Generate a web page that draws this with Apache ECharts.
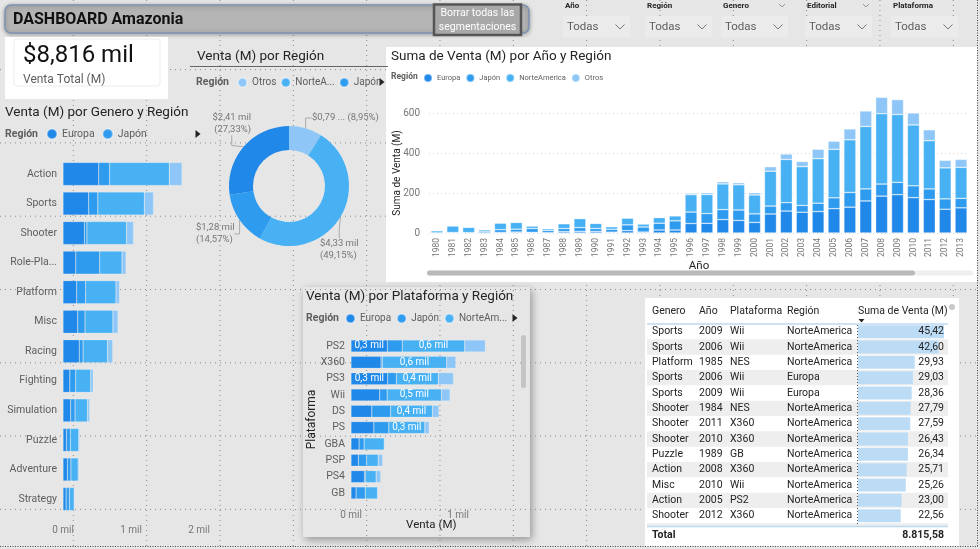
<!DOCTYPE html>
<html><head><meta charset="utf-8">
<script src="https://cdn.jsdelivr.net/npm/echarts@6/dist/echarts.min.js"></script>
<style>html,body{margin:0;padding:0;background:#e6e6e6}#c{width:980px;height:549px}</style>
</head><body><div id="c"></div>
<script>
// ---------------- DATA ----------------
const regiones = ['Europa', 'Japón', 'NorteAmerica', 'Otros'];
const ventaTotal = 8815.58;

const generos = ['Action','Sports','Shooter','Role-Playing','Platform','Misc','Racing','Fighting','Simulation','Puzzle','Adventure','Strategy'];
const generoEuropa       = [525.0, 376.9, 313.3, 188.1, 201.6, 216.0, 238.4, 100.3, 113.4, 50.8, 64.1, 45.3];
const generoJapon        = [159.9, 135.4, 38.3, 352.3, 130.8, 107.8, 56.7, 87.4, 63.7, 57.3, 52.1, 49.5];
const generoNorteAmerica = [877.8, 683.4, 582.6, 327.3, 447.1, 410.2, 359.4, 220.4, 183.3, 123.8, 105.8, 68.7];
const generoOtros        = [187.4, 135.0, 102.7, 59.6, 51.6, 75.3, 77.3, 36.7, 31.5, 12.6, 16.8, 11.4];

const donutRegiones = ['Otros', 'NorteAmerica', 'Japón', 'Europa'];
const donutVentas   = [789.0, 4332.8, 1284.4, 2409.3];

const anios = ['1980','1981','1982','1983','1984','1985','1986','1987','1988','1989','1990','1991','1992','1993','1994','1995','1996','1997','1998','1999','2000','2001','2002','2003','2004','2005','2006','2007','2008','2009','2010','2011','2012','2013'];
const anioEuropa       = [0.7, 2.0, 1.7, 0.8, 2.1, 4.7, 2.8, 1.4, 6.6, 8.4, 7.6, 4.0, 11.7, 4.7, 14.9, 14.9, 47.3, 48.3, 66.9, 62.7, 52.8, 94.9, 109.7, 103.8, 107.3, 121.6, 129.2, 160.2, 184.4, 191.6, 176.6, 167.4, 118.8, 125.8];
const anioJapon        = [0.0, 0.0, 0.0, 8.1, 14.3, 14.6, 19.8, 11.6, 15.8, 18.4, 14.9, 14.8, 28.9, 25.3, 34.0, 45.8, 57.4, 48.9, 50.0, 52.3, 42.8, 39.9, 41.8, 34.2, 41.7, 54.3, 73.7, 60.3, 60.3, 61.9, 59.5, 53.0, 51.8, 47.6];
const anioNorteAmerica = [10.6, 33.4, 26.9, 7.8, 33.3, 33.7, 12.5, 8.5, 23.9, 45.2, 25.5, 12.8, 33.9, 15.1, 28.2, 24.8, 86.8, 94.8, 128.4, 126.1, 94.5, 174.0, 216.2, 193.6, 222.6, 242.6, 263.1, 312.1, 351.4, 338.9, 304.2, 241.1, 155.0, 154.8];
const anioOtros        = [0.1, 0.3, 0.3, 0.1, 0.7, 0.9, 1.9, 0.2, 1.0, 1.5, 1.4, 0.7, 1.7, 0.9, 2.2, 2.6, 7.7, 9.1, 11.0, 10.1, 11.6, 22.8, 27.3, 26.0, 47.2, 40.6, 54.4, 77.6, 82.4, 74.8, 59.9, 54.4, 37.8, 39.8];

const plataformas = ['PS2','X360','PS3','Wii','DS','PS','GBA','PSP','PS4','GB'];
const platEuropa       = [339.3, 280.6, 343.7, 268.4, 194.7, 213.6, 75.3, 68.3, 123.7, 47.8];
const platJapon        = [139.2, 12.4, 80.0, 69.4, 175.6, 139.8, 47.3, 76.8, 14.3, 85.1];
const platNorteAmerica = [583.8, 601.1, 392.3, 507.7, 390.7, 336.5, 187.5, 109.0, 96.8, 114.3];
const platOtros        = [193.4, 85.5, 141.9, 80.6, 60.5, 40.9, 7.7, 42.2, 43.4, 8.2];

const tablaGenero     = ['Sports','Sports','Platform','Sports','Sports','Shooter','Shooter','Shooter','Puzzle','Action','Misc','Action','Shooter'];
const tablaAnio       = ['2009','2006','1985','2006','2009','1984','2011','2010','1989','2008','2010','2005','2012'];
const tablaPlataforma = ['Wii','Wii','NES','Wii','Wii','NES','X360','X360','GB','X360','Wii','PS2','X360'];
const tablaRegion     = ['NorteAmerica','NorteAmerica','NorteAmerica','Europa','Europa','NorteAmerica','NorteAmerica','NorteAmerica','NorteAmerica','NorteAmerica','NorteAmerica','NorteAmerica','NorteAmerica'];
const tablaVenta      = [45.42, 42.60, 29.93, 29.03, 28.36, 27.79, 27.59, 26.43, 26.34, 25.71, 25.26, 23.00, 22.56];

const slicers = ['Año', 'Región', 'Genero', 'Editorial', 'Plataforma'];

// ---------------- STYLE / LAYOUT ----------------
const COL = {'Europa':'#2088e9','Japón':'#2e9bef','NorteAmerica':'#47b1f4','Otros':'#8ec7f7'};
const F = 'Roboto, "Open Sans", sans-serif';
const TXT = '#252423', SUB = '#605e5c', AX = '#777777';
const donutLabelPos = [[312, 118, 'left'], [320, 250, 'left'], [196, 234, 'left'], [251, 123.5, 'right']];
const fmt = (n, d) => n.toFixed(d).replace('.', ',');
const fmtES = n => { const p = n.toFixed(2).split('.'); return p[0].replace(/\B(?=(\d{3})+(?!\d))/g, '.') + ',' + p[1]; };

const chart = echarts.init(document.getElementById('c'), null, {renderer: 'canvas'});

// ---------------- GRAPHICS (decoration) ----------------
const g = [];
function rect(x, y, w, h, style, z, r) { g.push({type:'rect', z: z, shape:{x, y, width:w, height:h, r: r || 0}, style}); }
function line(x1, y1, x2, y2, style, z) { g.push({type:'line', z: z, shape:{x1, y1, x2, y2}, style}); }
function text(x, y, t, o, z) {
  g.push({type:'text', z: z == null ? 10 : z, x, y, style: Object.assign({text: t, fill: TXT, fontFamily: F, fontSize: 11, align: 'left', verticalAlign: 'middle'}, o)});
}
function tri(x, y) { g.push({type:'polygon', z: 10, shape:{points:[[x-2.5, y-4],[x+2.5, y],[x-2.5, y+4]]}, style:{fill:'#252423'}}); }

// platform visual panel (below dots)
rect(303, 287, 227, 250, {fill:'#e6e6e6', shadowBlur: 8, shadowOffsetX: 2, shadowOffsetY: 3, shadowColor:'rgba(0,0,0,0.35)'}, 0);

// canvas grid dots
for (let k = 1; k <= 13; k++) line(73.33 * k, 0, 73.33 * k, 546, {stroke:'#8a8a8a', lineWidth: 1, lineDash:[1, 4]}, 1);
for (let k = 0; k <= 6; k++) line(0, 69.6 + 73.3 * k, 977, 69.6 + 73.3 * k, {stroke:'#8a8a8a', lineWidth: 1, lineDash:[1, 4]}, 1);
line(977.5, 0, 977.5, 547, {stroke:'#444', lineWidth: 1, lineDash:[1, 1.5]}, 1);
line(0, 546.5, 978, 546.5, {stroke:'#444', lineWidth: 1, lineDash:[1, 1.5]}, 1);

// header
rect(5, 5, 524, 28, {fill:'#b4b4b4', stroke:'#7d93b2', lineWidth: 1.5, shadowBlur: 4, shadowOffsetY: 1, shadowColor:'rgba(0,0,0,0.3)'}, 2, 6);
text(13, 19.5, 'DASHBOARD Amazonia', {fontSize: 16, fontWeight: 'bold', fill: '#111'});
rect(434, 4.5, 87, 30.5, {fill:'#a8a8a8', stroke:'#555', lineWidth: 2.5}, 3);
text(477.5, 13, 'Borrar todas las', {fontSize: 10.5, fill:'#fff', align:'center'});
text(477.5, 27, 'segmentaciones', {fontSize: 10.5, fill:'#fff', align:'center'});

// slicers
const slX = [563, 645, 721, 805, 891];
slicers.forEach((s, i) => {
  const x = slX[i];
  text(x + 2, 5.5, s, {fontSize: 8, fontWeight: 'bold'});
  rect(x, 16, 67, 21, {fill:'#ebebeb'}, 2);
  text(x + 4, 27, 'Todas', {fontSize: 11.5, fill: SUB});
  const c = x + 57;
  g.push({type:'polyline', z: 10, shape:{points:[[c-4.5, 24.5],[c, 29],[c+4.5, 24.5]]}, style:{stroke:'#777', lineWidth: 1, fill: null}});
  if (s === 'Genero' || s === 'Editorial') {
    const c2 = x + 61;
    g.push({type:'polyline', z: 10, shape:{points:[[c2-3, 4],[c2, 7],[c2+3, 4]]}, style:{stroke:'#999', lineWidth: 1, fill: null}});
  }
});

// KPI card
rect(5, 37, 163, 62, {fill:'#ffffff'}, 2);
rect(14, 39, 146, 47, {fill: null, stroke:'#ececec', lineWidth: 1}, 3, 3);
text(23, 56, '$' + Math.round(ventaTotal).toLocaleString('en-US') + ' mil', {fontSize: 24, fill:'#111'});
text(23, 80, 'Venta Total (M)', {fontSize: 12, fill: SUB});

// genre visual
text(5, 113, 'Venta (M) por Genero y Región', {fontSize: 13.5});
text(5, 134, 'Región', {fontSize: 10.5, fontWeight: 'bold', fill: SUB});
tri(198, 134);

// donut visual
text(197, 57, 'Venta (M) por Región', {fontSize: 13.5});
line(190, 66.5, 388, 66.5, {stroke:'#666', lineWidth: 1.2}, 3);
text(196, 82, 'Región', {fontSize: 10.5, fontWeight: 'bold', fill: SUB});
tri(382, 82);

// year visual
rect(386, 47, 591, 235, {fill:'#ffffff'}, 2);
text(391, 57, 'Suma de Venta (M) por Año y Región', {fontSize: 13.5});
text(391, 77, 'Región', {fontSize: 8.5, fontWeight: 'bold', fill: SUB});
rect(427, 270.5, 546, 5, {fill:'#efefef'}, 3, 2.5);
rect(427, 270.5, 488, 5, {fill:'#b9b9b9'}, 3, 2.5);

// platform visual
text(306, 297, 'Venta (M) por Plataforma y Región', {fontSize: 13.5});
text(306, 318, 'Región', {fontSize: 10.5, fontWeight: 'bold', fill: SUB});
tri(515, 318);
rect(521, 335, 5, 53, {fill:'#c4c4c4'}, 3, 2.5);

// table visual
const tTop = 324, rowH = 15.33;
rect(645, 298, 314, 248, {fill:'#ffffff'}, 2);
for (let i = 0; i < tablaVenta.length + 1; i++) {
  if (i % 2 === 1) rect(647, tTop + i * rowH, 301, Math.min(rowH, 526 - (tTop + i * rowH)), {fill:'#eeeeee'}, 3);
}
text(652, 311, 'Genero', {fontSize: 10.5});
text(699, 311, 'Año', {fontSize: 10.5});
text(730, 311, 'Plataforma', {fontSize: 10.5});
text(787, 311, 'Región', {fontSize: 10.5});
text(858, 311, 'Suma de Venta (M)', {fontSize: 10.5});
g.push({type:'polygon', z: 10, shape:{points:[[858.5, 319],[864.5, 319],[861.5, 322.5]]}, style:{fill:'#252423'}});
line(647, 324, 948, 324, {stroke:'#bcd9f2', lineWidth: 1.5}, 4);
line(857.5, 325, 857.5, 526, {stroke:'#555', lineWidth: 1, lineDash:[1, 2]}, 6);
line(647, 526.5, 948, 526.5, {stroke:'#bcd9f2', lineWidth: 1.5}, 4);
text(652, 535.5, 'Total', {fontSize: 10.5, fontWeight: 'bold'});
text(944, 535.5, fmtES(ventaTotal), {fontSize: 10.5, fontWeight: 'bold', align: 'right'});
g.push({type:'circle', z: 4, shape:{cx: 952, cy: 307, r: 3}, style:{fill:'#c8c8c8'}});

// ---------------- SERIES ----------------
const genreData = [generoEuropa, generoJapon, generoNorteAmerica, generoOtros];
const yearData = [anioEuropa, anioJapon, anioNorteAmerica, anioOtros];
const platData = [platEuropa, platJapon, platNorteAmerica, platOtros];
const series = [];
regiones.forEach((r, i) => {
  series.push({type:'bar', name: r, xAxisIndex: 0, yAxisIndex: 0, stack: 'gen', barWidth: 23, z: 5,
    data: genreData[i], itemStyle:{color: COL[r], borderColor:'rgba(255,255,255,0.35)', borderWidth: 0.5}, silent: true});
});
regiones.forEach((r, i) => {
  series.push({type:'bar', name: r, xAxisIndex: 1, yAxisIndex: 1, stack: 'anio', barWidth: 12, z: 5, clip: false,
    data: yearData[i], itemStyle:{color: COL[r], borderColor:'rgba(255,255,255,0.55)', borderWidth: 0.6}, silent: true});
});
regiones.forEach((r, i) => {
  const showLab = (r === 'Europa' || r === 'NorteAmerica');
  series.push({type:'bar', name: r, xAxisIndex: 2, yAxisIndex: 2, stack: 'plat', barWidth: 12, z: 5, clip: false,
    data: platData[i], itemStyle:{color: COL[r], borderColor:'rgba(255,255,255,0.35)', borderWidth: 0.5}, silent: true,
    label: {show: showLab, position: 'inside', color: '#fff', fontSize: 10, fontFamily: F,
      formatter: p => p.value >= 300 ? fmt(p.value / 1000, 1) + ' mil' : ''}});
});
series.push({type:'bar', name: 'tabla', xAxisIndex: 3, yAxisIndex: 3, barWidth: 13, z: 5, silent: true,
  data: tablaVenta, itemStyle:{color:'#bcdcf6'}});
series.push({type:'pie', name: 'Región', z: 5, center: [289, 186], radius: [36, 60], startAngle: 90, clockwise: true, silent: true,
  data: donutRegiones.map((r, i) => ({name: r, value: donutVentas[i], itemStyle:{color: COL[r]}})),
  label: {show: true, color: AX, fontSize: 9.5, fontFamily: F, lineHeight: 12,
    formatter: p => p.name === 'Otros'
      ? '$' + fmt(p.value / 1000, 2) + ' ... (' + fmt(p.percent, 2) + '%)'
      : '$' + fmt(p.value / 1000, 2) + ' mil\n(' + fmt(p.percent, 2) + '%)'},
  labelLine: {show: true, length: 8, length2: 10, lineStyle:{color:'#aaa', width: 1}},
  labelLayout: p => { const q = donutLabelPos[p.dataIndex]; return {x: q[0], y: q[1], align: q[2], verticalAlign: 'middle'}; }
});

const legBase = {icon: 'circle', padding: 0, z: 6, selectedMode: false};

const option = {
  backgroundColor: '#e6e6e6',
  animation: false,
  textStyle: {fontFamily: F},
  graphic: {elements: g},
  legend: [
    Object.assign({}, legBase, {left: 46, top: 128, itemWidth: 10, itemHeight: 10, itemGap: 7, data: ['Europa', 'Japón'], textStyle:{color: SUB, fontSize: 10.5, fontFamily: F}}),
    Object.assign({}, legBase, {left: 237, top: 77, itemWidth: 9, itemHeight: 9, itemGap: 4, data: ['Otros', 'NorteAmerica', 'Japón'],
      formatter: n => n.length > 8 ? n.slice(0, 6) + '...' : n, textStyle:{color: SUB, fontSize: 10, fontFamily: F}}),
    Object.assign({}, legBase, {left: 423, top: 73, itemWidth: 8, itemHeight: 8, itemGap: 5, data: regiones, textStyle:{color: SUB, fontSize: 7.5, fontFamily: F}}),
    Object.assign({}, legBase, {left: 345, top: 313, itemWidth: 9, itemHeight: 9, itemGap: 5, data: ['Europa', 'Japón', 'NorteAmerica'],
      formatter: n => n.length > 8 ? n.slice(0, 7) + '...' : n, textStyle:{color: SUB, fontSize: 10, fontFamily: F}})
  ],
  grid: [
    {left: 63, top: 159.2, width: 136, height: 354.6},
    {left: 429, top: 113, width: 540, height: 120},
    {left: 351, top: 337.8, width: 160.5, height: 163.3},
    {left: 858, top: tTop, width: 86, height: rowH * tablaVenta.length}
  ],
  xAxis: [
    {type:'value', gridIndex: 0, min: 0, max: 2000, interval: 1000, z: 5,
      axisLabel:{formatter: v => (v / 1000) + ' mil', fontSize: 10, color: AX, margin: 12},
      splitLine:{show: false}, axisLine:{show: false}, axisTick:{show: false}},
    {type:'category', gridIndex: 1, data: anios, z: 5,
      axisLabel:{rotate: 90, fontSize: 8.5, color: AX, interval: 0, margin: 5},
      axisTick:{show: false}, axisLine:{show: false},
      name: 'Año', nameLocation: 'middle', nameGap: 27, nameMoveOverlap: false, nameTextStyle:{fontSize: 11.5, color: TXT}},
    {type:'value', gridIndex: 2, min: 0, max: 1500, interval: 1000, z: 5,
      axisLabel:{formatter: v => (v / 1000) + ' mil', fontSize: 10, color: AX, margin: 9, showMaxLabel: false},
      splitLine:{show: false}, axisLine:{show: false}, axisTick:{show: false},
      name: 'Venta (M)', nameLocation: 'middle', nameGap: 18, nameMoveOverlap: false, nameTextStyle:{fontSize: 11.5, color: TXT}},
    {type:'value', gridIndex: 3, min: 0, max: 'dataMax', show: false}
  ],
  yAxis: [
    {type:'category', gridIndex: 0, data: generos, inverse: true, z: 5,
      axisLabel:{fontSize: 10.5, color: SUB, margin: 6, formatter: v => v.length > 10 ? v.slice(0, 8) + '...' : v},
      axisTick:{show: false}, axisLine:{show: false}},
    {type:'value', gridIndex: 1, min: 0, max: 600, interval: 200, z: 5,
      axisLabel:{fontSize: 10, color: AX, margin: 9},
      splitLine:{show: true, lineStyle:{color:'#d9d9d9', type:[1, 3]}},
      axisLine:{show: false}, axisTick:{show: false},
      name: 'Suma de Venta (M)', nameLocation: 'middle', nameGap: 27, nameMoveOverlap: false, nameRotate: 90, nameTextStyle:{fontSize: 10, color: TXT}},
    {type:'category', gridIndex: 2, data: plataformas, inverse: true, z: 5,
      axisLabel:{fontSize: 10.5, color: SUB, margin: 6},
      axisTick:{show: false}, axisLine:{show: false},
      name: 'Plataforma', nameLocation: 'middle', nameGap: 33, nameMoveOverlap: false, nameRotate: 90, nameTextStyle:{fontSize: 12, color: TXT}},
    {type:'category', gridIndex: 3, data: tablaVenta.map((v, i) => String(i)), inverse: true, z: 7,
      axisLabel:{margin: 0, fontSize: 10.5, color: TXT,
        formatter: (v, i) => '{g|' + tablaGenero[i] + '}{a|' + tablaAnio[i] + '}{p|' + tablaPlataforma[i] + '}{r|' + tablaRegion[i] + '}',
        rich:{g:{width: 47, align: 'left', fontSize: 10.5, color: TXT}, a:{width: 31, align: 'left', fontSize: 10.5, color: TXT},
              p:{width: 57, align: 'left', fontSize: 10.5, color: TXT}, r:{width: 71, align: 'left', fontSize: 10.5, color: TXT}}},
      axisTick:{show: false}, axisLine:{show: false}},
    {type:'category', gridIndex: 3, position: 'right', data: tablaVenta.map((v, i) => String(i)), inverse: true, z: 7,
      axisLabel:{margin: 0, align: 'right', fontSize: 10.5, color: TXT, formatter: (v, i) => fmt(tablaVenta[i], 2)},
      axisTick:{show: false}, axisLine:{show: false}}
  ],
  series: series
};
chart.setOption(option);
</script>
</body></html>
